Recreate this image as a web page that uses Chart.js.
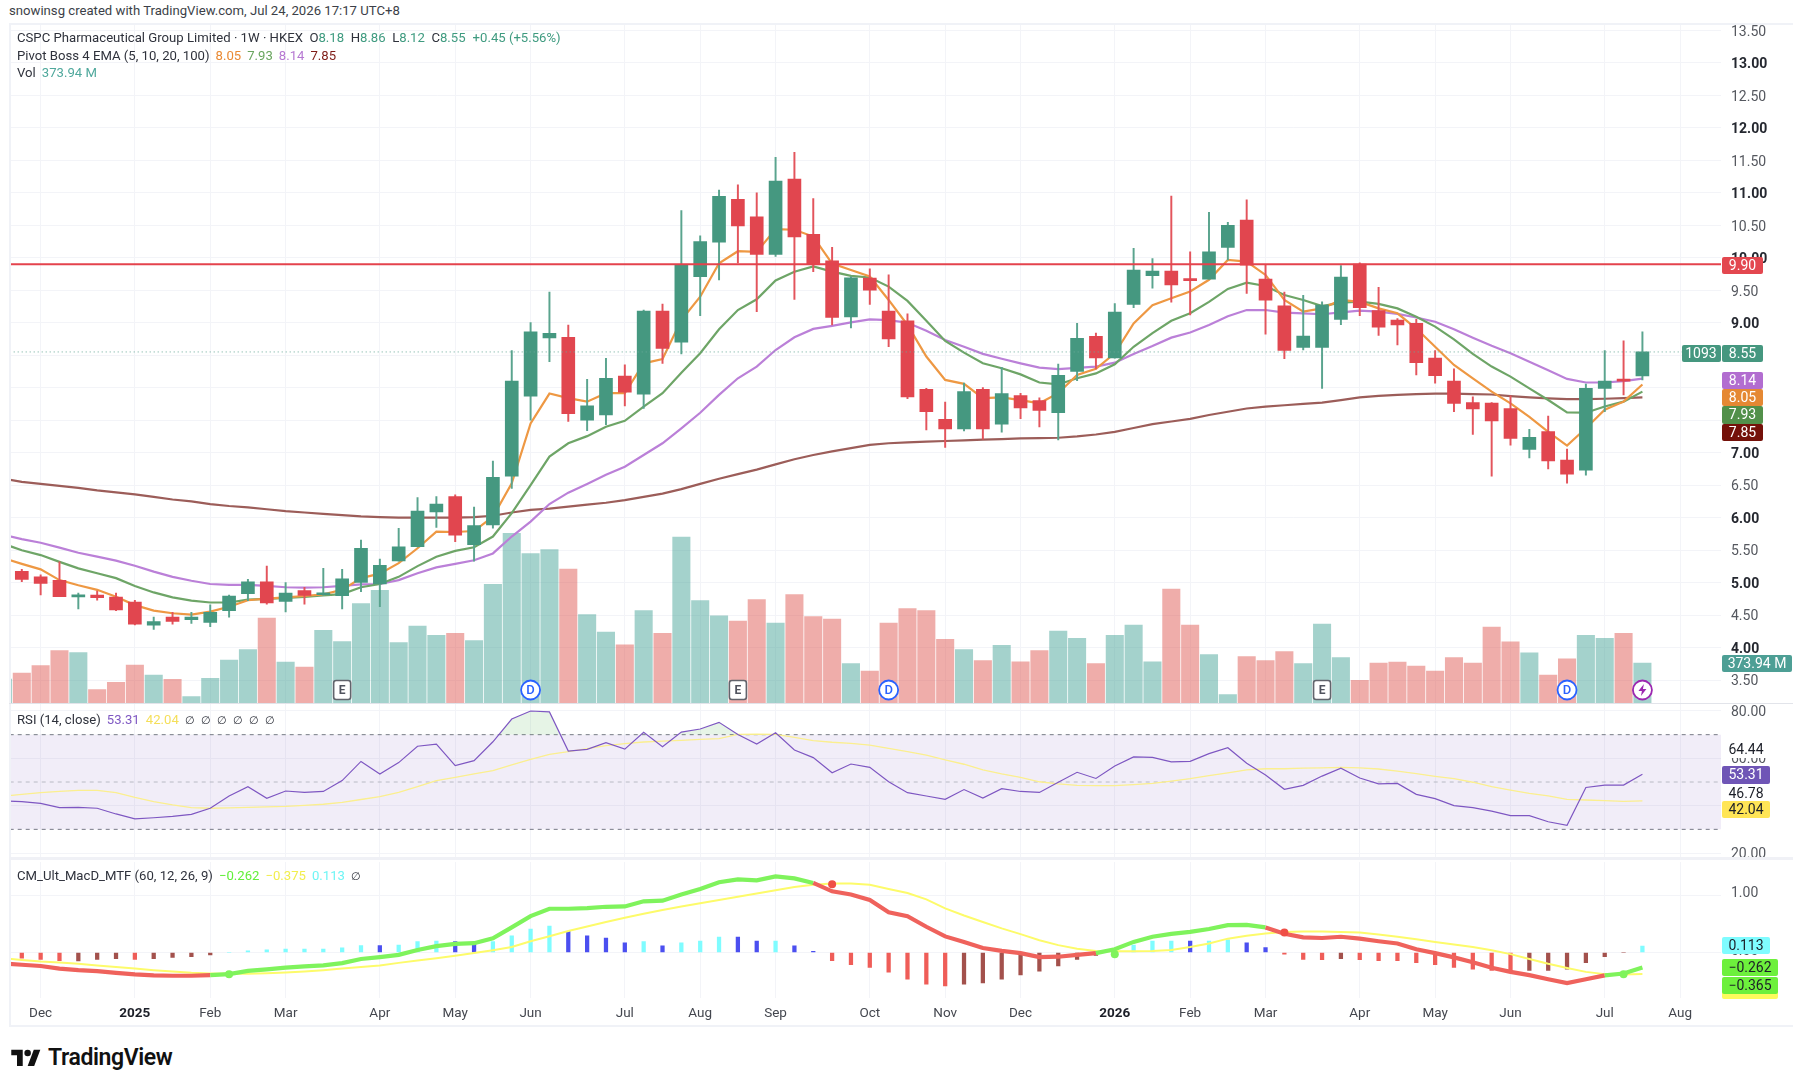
<!DOCTYPE html>
<html><head><meta charset="utf-8">
<script src="https://cdn.jsdelivr.net/npm/chart.js@4"></script>
<style>
html,body{margin:0;padding:0;background:#fff;width:1800px;height:1080px;overflow:hidden;font-family:Roboto,sans-serif}
canvas{position:absolute;left:0}
.t{position:absolute;white-space:nowrap;font-size:13.15px;line-height:16px;color:#2f323c}
.t span{margin-left:6px}
.tag{position:absolute;left:1722px;width:48px;height:17.4px;line-height:17.4px;font-size:14px;text-align:center;border-radius:2px;color:#fff}
.frame{position:absolute;left:9px;top:23px;width:1784px;height:1004px;box-sizing:border-box;border:2px solid #f0f2f7;border-right:none;pointer-events:none}
.sep{position:absolute;left:9px;width:1784px}
</style></head><body>
<canvas id="cPrice" width="1800" height="680" style="top:23px"></canvas>
<canvas id="cRsi" width="1800" height="155" style="top:703px"></canvas>
<canvas id="cMacd" width="1800" height="169" style="top:858px"></canvas>
<div class="frame"></div>
<div class="sep" style="top:703px;height:1px;background:#e2e4ea"></div>
<div class="sep" style="top:857px;height:3px;background:#f0f1f6"></div>

<div class="t" style="left:9px;top:3px;color:#3c3f48">snowinsg created with TradingView.com, Jul 24, 2026 17:17 UTC+8</div>
<div class="t" style="left:17px;top:30px">CSPC Pharmaceutical Group Limited · 1W · HKEX&nbsp;&nbsp;O<b style="font-weight:400;color:#3f9b80">8.18</b>&nbsp;&nbsp;H<b style="font-weight:400;color:#3f9b80">8.86</b>&nbsp;&nbsp;L<b style="font-weight:400;color:#3f9b80">8.12</b>&nbsp;&nbsp;C<b style="font-weight:400;color:#3f9b80">8.55</b><span style="color:#3f9b80;margin-left:7px">+0.45 (+5.56%)</span></div>
<div class="t" style="left:17px;top:48px">Pivot Boss 4 EMA (5, 10, 20, 100)<span style="color:#ea8a33">8.05</span><span style="color:#69a55e">7.93</span><span style="color:#b678d2">8.14</span><span style="color:#7f1d18">7.85</span></div>
<div class="t" style="left:17px;top:65px">Vol<span style="color:#4fa89c">373.94 M</span></div>
<div class="t" style="left:17px;top:712px">RSI (14, close)<span style="color:#7e57c2">53.31</span><span style="color:#f5df5a">42.04</span><span style="font-size:11px;word-spacing:3.4px">∅ ∅ ∅ ∅ ∅ ∅</span></div>
<div class="t" style="left:17px;top:868px">CM_Ult_MacD_MTF (60, 12, 26, 9)<span style="color:#62ef3a">−0.262</span><span style="color:#f2ee4e">−0.375</span><span style="color:#6ff5f5">0.113</span><span style="font-size:11px">∅</span></div>

<div class="tag" style="top:257px;background:#e3474f;width:41px">9.90</div>
<div class="tag" style="top:344.5px;background:#45977f;left:1681.5px;width:39px">1093</div>
<div class="tag" style="top:344.5px;background:#45977f;width:41px">8.55</div>
<div class="tag" style="top:371.6px;background:#b26dd0;width:41px">8.14</div>
<div class="tag" style="top:389px;background:#e58833;width:41px">8.05</div>
<div class="tag" style="top:406.4px;background:#52904a;width:41px">7.93</div>
<div class="tag" style="top:423.8px;background:#741109;width:41px">7.85</div>
<div class="tag" style="top:655px;background:#4d9f95;width:70px">373.94 M</div>

<div class="tag" style="top:741px;background:#fff;color:#1c1f28">64.44</div>
<div class="tag" style="top:766.3px;background:#6f55b6">53.31</div>
<div class="tag" style="top:784.6px;background:#fff;color:#1c1f28">46.78</div>
<div class="tag" style="top:801px;background:#ffe556;color:#1c1f28">42.04</div>

<div class="tag" style="top:937px;background:#7ffcff;color:#1c1f28">0.113</div>
<div class="tag" style="top:980px;height:18.7px;background:#fdfb5c;width:56px"></div>
<div class="tag" style="top:959px;background:#6df03c;color:#1c1f28;width:56px">−0.262</div>
<div class="tag" style="top:977px;background:#6df03c;color:#1c1f28;width:56px">−0.365</div>

<svg style="position:absolute;left:11px;top:1048px" width="30" height="18" viewBox="0 0 36 22"><path d="M14 22H7V9H0V2h14v20zM28 22h-8l7.5-20h8L28 22z" fill="#111"/><circle cx="20" cy="6" r="4" fill="#111"/></svg>
<div class="t" style="left:48px;top:1045px;font-size:23px;line-height:26px;font-weight:600;color:#111;letter-spacing:-.4px">TradingView</div>

<script>
// --- Weekly OHLC, index 0..86
const opens=[5.175,5.09,5.036,4.78,4.81,4.78,4.70,4.345,4.47,4.43,
4.39,4.57,4.83,5.015,4.71,4.877,4.815,4.80,5.005,4.98,
5.335,5.555,6.09,6.325,5.585,5.89,6.64,7.87,8.765,8.775,
7.50,7.58,8.18,7.90,9.18,8.70,9.71,10.24,10.90,10.63,
10.05,11.21,10.36,9.95,9.09,9.685,9.18,9.03,7.975,7.515,
7.365,7.975,7.44,7.88,7.80,7.615,8.25,8.79,8.46,9.28,
9.725,9.795,9.68,9.67,10.16,10.58,9.67,9.26,8.62,8.62,
9.05,9.90,9.185,9.04,8.99,8.455,8.10,7.77,7.765,7.68,
7.05,7.325,6.885,6.73,7.99,8.11,8.18];
const closes=[5.05,4.99,4.785,4.815,4.77,4.58,4.36,4.40,4.405,4.47,
4.545,4.795,5.015,4.69,4.84,4.805,4.84,5.06,5.53,5.267,
5.55,6.10,6.21,5.73,5.88,6.62,8.10,8.86,8.835,7.60,
7.72,8.145,7.93,9.18,8.606,9.89,10.25,10.945,10.49,10.05,
11.18,10.32,9.90,9.08,9.69,9.50,8.75,7.86,7.63,7.365,
7.94,7.365,7.91,7.69,7.65,8.19,8.76,8.46,9.165,9.81,
9.795,9.58,9.645,10.09,10.50,9.885,9.345,8.575,8.795,9.27,
9.70,9.23,8.93,8.965,8.385,8.185,7.76,7.675,7.49,7.22,
7.235,6.875,6.67,7.99,8.10,8.10,8.55];
const highs=[5.205,5.12,5.32,4.84,4.87,4.84,4.73,4.47,4.545,4.545,
4.66,4.81,5.05,5.255,5.0,4.93,5.22,5.205,5.657,5.365,
5.835,6.31,6.325,6.35,6.165,6.87,8.57,9.0,9.47,8.965,
8.13,8.45,8.35,9.195,9.285,10.725,10.335,11.04,11.12,11.0,
11.545,11.62,10.91,10.16,9.71,9.83,9.735,9.135,7.99,7.78,
8.07,8.0,8.315,7.915,7.845,8.365,8.99,8.84,9.295,10.145,
9.985,10.95,10.09,10.70,10.545,10.89,9.885,9.47,9.42,9.32,
9.88,9.92,9.545,9.065,9.05,8.57,8.29,7.86,7.77,7.875,
7.36,7.565,7.055,8.055,8.57,8.72,8.86];
const lows=[5.015,4.81,4.785,4.595,4.73,4.57,4.35,4.28,4.36,4.375,
4.325,4.47,4.725,4.67,4.55,4.67,4.805,4.595,4.86,4.63,
5.33,5.55,5.85,5.63,5.33,5.84,6.45,7.5,8.40,7.48,
7.34,7.43,7.72,7.68,8.375,8.52,9.11,9.66,9.92,9.17,
10.02,9.36,9.785,8.965,8.92,9.28,8.63,7.83,7.35,7.08,
7.335,7.21,7.315,7.525,7.395,7.195,8.11,8.29,8.455,9.23,
9.53,9.315,9.12,9.67,9.965,9.45,8.825,8.445,8.58,7.99,
8.97,9.11,8.805,8.66,8.195,8.07,7.63,7.28,6.64,7.115,
6.92,6.75,6.53,6.655,7.63,7.89,8.12];
// --- Volume in millions, the first entry is the partly hidden week -1
const volumeEdge=224;
const volumes=[280,349,489,471,125,193,355,262,221,59,
231,402,499,795,383,337,680,574,929,1054,
564,720,633,652,583,1110,1587,1396,1434,1253,
826,664,545,863,652,1552,957,816,767,966,
748,1013,807,785,368,299,748,882,863,596,
499,396,539,386,489,673,605,368,633,729,
386,1066,729,452,78,433,396,480,368,739,
424,212,374,383,346,299,424,374,711,573,
470,262,414,633,605,652,374];
// --- EMAs, first entry is week -1
const ema5=[5.38,5.29,5.205,5.04,4.96,4.89,4.785,4.655,4.57,4.53,4.51,
4.555,4.63,4.73,4.755,4.775,4.795,4.82,4.89,5.07,5.14,
5.30,5.53,5.785,5.78,5.795,6.015,6.53,7.45,7.91,7.84,
7.785,7.915,7.915,8.375,8.44,9.04,9.4,9.915,10.10,10.09,
10.44,10.43,10.325,9.91,9.81,9.71,9.35,8.965,8.48,8.12,
8.06,7.84,7.85,7.81,7.76,7.915,8.195,8.29,8.53,8.99,
9.27,9.375,9.48,9.66,9.965,9.94,9.735,9.35,9.17,9.22,
9.35,9.32,9.22,9.145,8.91,8.63,8.35,8.145,7.94,7.76,
7.55,7.32,7.11,7.375,7.66,7.785,8.05];
const ema10=[5.6,5.5,5.425,5.32,5.22,5.145,5.07,4.95,4.85,4.775,4.725,
4.695,4.695,4.74,4.75,4.765,4.78,4.805,4.825,4.93,4.98,
5.09,5.255,5.40,5.49,5.545,5.71,6.07,6.50,6.94,7.145,
7.255,7.40,7.49,7.71,7.915,8.23,8.53,8.90,9.195,9.36,
9.65,9.785,9.865,9.785,9.72,9.695,9.555,9.335,9.03,8.72,
8.54,8.375,8.30,8.205,8.08,8.05,8.145,8.22,8.36,8.63,
8.84,9.03,9.145,9.32,9.52,9.615,9.565,9.425,9.35,9.255,
9.31,9.325,9.29,9.22,9.09,8.94,8.745,8.52,8.325,8.17,
7.99,7.81,7.62,7.615,7.71,7.785,7.94];
const ema20=[5.74,5.67,5.615,5.54,5.46,5.40,5.34,5.26,5.17,5.09,5.03,
4.98,4.965,4.965,4.95,4.93,4.925,4.93,4.95,4.975,4.98,
5.04,5.145,5.235,5.29,5.345,5.45,5.71,5.94,6.21,6.385,
6.52,6.66,6.785,6.965,7.145,7.375,7.615,7.89,8.145,8.325,
8.58,8.775,8.905,8.95,9.005,9.05,9.04,9.0,8.875,8.735,
8.63,8.52,8.445,8.375,8.31,8.285,8.305,8.325,8.385,8.52,
8.64,8.77,8.85,8.965,9.10,9.195,9.195,9.155,9.145,9.13,
9.16,9.185,9.17,9.135,9.08,9.015,8.90,8.77,8.645,8.53,
8.40,8.27,8.135,8.08,8.08,8.10,8.14];
const ema100=[6.6,6.55,6.52,6.49,6.46,6.42,6.39,6.36,6.32,6.28,6.25,
6.21,6.18,6.16,6.13,6.10,6.08,6.06,6.04,6.02,6.01,
6.00,6.00,6.00,6.00,6.01,6.03,6.08,6.12,6.14,6.17,
6.20,6.23,6.27,6.32,6.37,6.44,6.52,6.60,6.67,6.74,
6.82,6.90,6.965,7.02,7.07,7.12,7.145,7.16,7.17,7.18,
7.19,7.20,7.21,7.22,7.225,7.23,7.25,7.28,7.32,7.38,
7.44,7.48,7.52,7.58,7.63,7.68,7.71,7.73,7.75,7.77,
7.81,7.85,7.875,7.89,7.90,7.91,7.91,7.90,7.895,7.87,
7.85,7.835,7.825,7.825,7.83,7.84,7.85];
const resistanceLevel=9.90, lastClose=8.55;
// --- RSI, first entry is week -1
const rsi=[42,41.7,41,39.2,39.3,38.9,36.5,34.4,34.9,35.5,36.3,
38.9,44.1,48,43.1,46.2,45.6,46,50.6,58.7,53.4,
58.2,65.1,66,56.9,59,67,76.6,80,79.6,63.1,
63.8,66.6,63.9,71,64.9,71.1,72.4,75.2,70.1,66,
70.8,63.5,60.3,53.9,57.6,56.2,50.1,45.5,44.1,42.7,
46.8,43.2,47.2,46,45.6,49.9,54.1,51.5,56.8,60.6,
60.4,58.5,58.7,62,64.5,57.9,53,46.9,48.6,52.5,
55.8,51.7,49.2,49.4,44.8,43,40,39.2,37.7,35.8,
35.8,33.2,31.7,47.7,48.7,48.7,53.31];
const rsiMa=[44,44.8,45.5,46,46.5,46.5,45.5,43.5,41.7,40.3,39.2,
38.9,39.1,39.3,39.5,39.7,40.1,40.6,41.4,42.6,43.8,
45.6,48,50.6,52,53.4,54.8,57.2,59.6,61.7,62.8,
64.1,65.4,66.2,66.9,67.3,67.6,68,68.3,70.1,70.2,
70.1,68.9,67.5,66.8,66.3,65.6,64.2,62.8,61.4,59.3,
57.5,55.1,53.4,52,50.1,49.2,48.6,48.5,48.5,48.9,
49.4,50.4,51.4,52.7,53.9,55.1,55.6,55.6,55.9,56,
56.2,56,55.5,54.6,53.5,52.4,51.4,49.9,48,46.6,
45.2,44.1,42.7,42.4,42.1,41.8,42.04];
const rsiUpper=70, rsiMiddle=50, rsiLower=30;
// --- CM Ult MACD, first entry is week -1
const macd=[-0.19,-0.213,-0.235,-0.28,-0.308,-0.325,-0.353,-0.381,-0.398,-0.404,-0.404,
-0.393,-0.376,-0.32,-0.292,-0.264,-0.241,-0.224,-0.185,-0.112,-0.079,
-0.04,0.045,0.112,0.152,0.163,0.247,0.438,0.634,0.763,0.763,
0.775,0.797,0.803,0.892,0.904,1.01,1.106,1.224,1.274,1.257,
1.325,1.291,1.212,1.066,1.01,0.915,0.702,0.634,0.449,0.281,
0.185,0.079,0.028,-0.011,-0.079,-0.073,-0.04,-0.011,0.056,0.185,
0.275,0.326,0.359,0.41,0.477,0.483,0.438,0.326,0.264,0.253,
0.275,0.242,0.197,0.157,0.056,-0.011,-0.084,-0.168,-0.264,-0.337,
-0.393,-0.466,-0.533,-0.466,-0.398,-0.365,-0.262];
const macdSignal=[-0.10,-0.13,-0.157,-0.175,-0.196,-0.225,-0.253,-0.28,-0.308,-0.33,-0.353,
-0.365,-0.37,-0.37,-0.36,-0.348,-0.33,-0.308,-0.28,-0.253,-0.224,
-0.18,-0.14,-0.10,-0.056,-0.01,0.04,0.096,0.197,0.285,0.376,
0.455,0.533,0.605,0.674,0.74,0.803,0.86,0.915,0.97,1.027,
1.085,1.14,1.179,1.201,1.201,1.179,1.106,1.038,0.926,0.769,
0.645,0.533,0.421,0.32,0.213,0.129,0.067,0.028,0.022,0.022,
0.028,0.045,0.096,0.157,0.242,0.292,0.331,0.359,0.365,0.365,
0.359,0.348,0.314,0.275,0.23,0.185,0.14,0.096,0.04,-0.028,
-0.112,-0.196,-0.269,-0.337,-0.376,-0.381,-0.375];
const macdBullishWeeks=[[10,41],[57,65],[84,85]];
const macdCrossWeeks=[11,43,58,67,85];
const macdCrossValues=[-0.38,1.19,-0.03,0.35,-0.38];
// index 0..86
const macdHist=[-0.1,-0.12,-0.14,-0.145,-0.12,-0.105,-0.12,-0.105,-0.085,-0.07,
-0.04,0,0.03,0.045,0.06,0.06,0.06,0.08,0.12,0.12,
0.13,0.19,0.2,0.19,0.15,0.19,0.29,0.41,0.46,0.37,
0.29,0.25,0.17,0.19,0.115,0.17,0.2,0.27,0.27,0.2,
0.2,0.115,0.02,-0.14,-0.21,-0.26,-0.34,-0.465,-0.55,-0.58,
-0.55,-0.53,-0.465,-0.39,-0.325,-0.235,-0.12,-0.05,0,0.13,
0.2,0.2,0.2,0.2,0.22,0.17,0.085,-0.03,-0.12,-0.125,
-0.105,-0.125,-0.14,-0.14,-0.175,-0.21,-0.26,-0.29,-0.31,-0.325,
-0.31,-0.31,-0.29,-0.175,-0.07,0,0.113];
// r falling below, m rising below, c rising above, b falling above
const macdHistState=("rrrmmmrmmmm"+"cccccccc"+"b"+"ccc"+"bb"+"cccc"+"bbbb"+"cb"+"ccc"+"bb"+"c"+"bb"+"rrrrrrr"+"mmmmmmmm"+"cccc"+"b"+"cc"+"bb"+"rrr"+"m"+"rrrrrrrrr"+"mmmmmm"+"c").split("");
// --- Time axis
const monthTickWeeks=[1,6,10,14,19,23,27,32,36,40,45,49,53,58,62,66,71,75,79,84,88];
const monthTickLabels=["Dec","2025","Feb","Mar","Apr","May","Jun","Jul","Aug","Sep","Oct","Nov","Dec","2026","Feb","Mar","Apr","May","Jun","Jul","Aug"];
const earningsWeeks=[17,38,69], dividendWeeks=[27,46,82], splitWeeks=[86];
const rsiTicks=[20,40,60,80], macdTicks=[0,1];

const xMin=-0.642, xMax=90.17;
const grid='#f3f4f8';
const GREEN='#459880', RED='#e1464f';
const weeks=opens.map((_,i)=>i);
const up=weeks.map(i=>closes[i]>=opens[i]);
const xy=arr=>arr.map((v,k)=>({x:k-1,y:v}));
const font='Roboto, sans-serif';

function xAxis(show){return{type:'linear',min:xMin,max:xMax,offset:false,
  grid:{color:grid,drawTicks:false,lineWidth:1,offset:false},border:{display:false},
  afterBuildTicks:s=>{s.ticks=monthTickWeeks.map(v=>({value:v}))},
  afterFit:s=>{s.height=show?29:0;s.paddingLeft=0;s.paddingRight=0},
  ticks:{display:show,autoSkip:false,maxRotation:0,minRotation:0,padding:8,
    callback:v=>monthTickLabels[monthTickWeeks.indexOf(v)],
    font:c=>({family:font,size:13.5,weight:/^20/.test(monthTickLabels[c.index]||'')?'700':'400'}),
    color:c=>/^20/.test(monthTickLabels[c.index]||'')?'#1c1f28':'#44474f'}}}
function yAxis(o,dy){return Object.assign({position:'right',grid:{color:grid,drawTicks:false},border:{display:false},
  afterFit:s=>{s.width=79;s.paddingTop=0;s.paddingBottom=0;
    if(dy&&!s._shifted){s._shifted=true;const f=s._computeLabelItems.bind(s);
      s._computeLabelItems=a=>{const r=f(a);r.forEach(it=>{it.options.translation=[it.options.translation[0],it.options.translation[1]+dy]});return r}}}},o)}
const base={responsive:false,animation:false,events:[],devicePixelRatio:1,
  layout:{padding:{left:9.7,right:0,top:0,bottom:0}},
  plugins:{legend:{display:false},tooltip:{enabled:false},title:{display:false}}};
const line=(data,color,w,order,extra)=>Object.assign({type:'line',data,borderColor:color,borderWidth:w,pointRadius:0,tension:0,order,fill:false},extra||{});

// event badges
const badgePlugin={id:'badges',afterDatasetsDraw(ch){
  const g=ch.ctx,sx=ch.scales.x,y=667;
  g.save();g.textAlign='center';g.textBaseline='middle';
  earningsWeeks.forEach(w=>{const x=sx.getPixelForValue(w);
    g.fillStyle='#fff';g.strokeStyle='#62646c';g.lineWidth=1.6;g.beginPath();g.roundRect(x-8.5,y-9.5,17,19,2.5);g.fill();g.stroke();
    g.fillStyle='#50535e';g.font='700 12px '+font;g.fillText('E',x,y+0.5);});
  dividendWeeks.forEach(w=>{const x=sx.getPixelForValue(w);
    g.fillStyle='#fff';g.strokeStyle='#2962ff';g.lineWidth=1.8;g.beginPath();g.arc(x,y,9.5,0,7);g.fill();g.stroke();
    g.fillStyle='#2962ff';g.font='500 13px '+font;g.fillText('D',x,y+0.5);});
  splitWeeks.forEach(w=>{const x=sx.getPixelForValue(w);
    g.fillStyle='#fff';g.strokeStyle='#9c27b0';g.lineWidth=1.8;g.beginPath();g.arc(x,y,9.5,0,7);g.fill();g.stroke();
    g.fillStyle='#9c27b0';g.beginPath();[[1.5,-6],[-4,1],[-0.5,1],[-1.5,6],[4,-1],[0.5,-1]].forEach((p,k)=>k?g.lineTo(x+p[0],y+p[1]):g.moveTo(x+p[0],y+p[1]));g.closePath();g.fill();});
  g.restore();}};

new Chart(document.getElementById('cPrice'),{
  data:{datasets:[
    {type:'bar',yAxisID:'yVol',data:[{x:-1,y:volumeEdge}].concat(weeks.map(i=>({x:i,y:volumes[i]}))),
      backgroundColor:[true].concat(up).map(u=>u?'rgba(64,160,148,.48)':'rgba(222,84,78,.48)'),
      barThickness:17.4,grouped:false,order:20},
    line(xy(ema100),'#9c5d59',2.2,10),
    line(xy(ema20),'#bb80d8',2.2,9),
    line(xy(ema10),'#6ea567',2.2,8),
    line(xy(ema5),'#ee9843',2.2,7),
    {type:'bar',data:weeks.map(i=>({x:i,y:[lows[i],highs[i]]})),
      backgroundColor:up.map(u=>u?'#5aa48e':'#e3545c'),barThickness:1.3,grouped:false,order:5},
    {type:'bar',data:weeks.map(i=>({x:i,y:[opens[i],closes[i]]})),
      backgroundColor:up.map(u=>u?GREEN:RED),barThickness:13,grouped:false,minBarLength:2,order:4},
    line([{x:xMin,y:resistanceLevel},{x:xMax,y:resistanceLevel}],'#e4434d',2,2),
    line([{x:xMin,y:lastClose},{x:xMax,y:lastClose}],'#6aa998',1,3,{borderDash:[1,3]})
  ]},
  options:Object.assign({},base,{scales:{
    x:xAxis(false),
    y:yAxis({min:3.149,max:13.611,ticks:{stepSize:0.5,includeBounds:false,padding:10,
      callback:v=>v.toFixed(2),
      font:c=>({family:font,size:14,weight:c.tick&&c.tick.value%1===0?'700':'400'}),
      color:c=>c.tick&&c.tick.value%1===0?'#24272f':'#55585f'}},1.8),
    yVol:{display:false,min:0,max:6358}
  }}),
  plugins:[badgePlugin]
});

new Chart(document.getElementById('cRsi'),{
  data:{datasets:[
    line(xy(rsi),'#7e57c2',1.2,2,{fill:{value:rsiUpper,above:'rgba(76,175,80,.14)',below:'rgba(0,0,0,0)'}}),
    line(xy(rsiMa),'#fbef8f',1.3,3),
    line([{x:xMin,y:rsiUpper},{x:xMax,y:rsiUpper}],'#787b86',1,5,{borderDash:[4,4],fill:'+1',backgroundColor:'rgba(126,87,194,.11)'}),
    line([{x:xMin,y:rsiLower},{x:xMax,y:rsiLower}],'#787b86',1,6,{borderDash:[4,4]}),
    line([{x:xMin,y:rsiMiddle},{x:xMax,y:rsiMiddle}],'#b9bbc4',1,4,{borderDash:[4,4]})
  ]},
  options:Object.assign({},base,{scales:{
    x:xAxis(false),
    y:yAxis({min:17.89,max:83.38,afterBuildTicks:s=>{s.ticks=rsiTicks.map(v=>({value:v}))},
      ticks:{padding:10,callback:v=>v.toFixed(2),font:{family:font,size:14},color:'#55585f'}},1.5)
  }})
});

const inBull=w=>macdBullishWeeks.some(r=>w>=r[0]&&w<=r[1]);
const histColors={r:'#ef5d58',m:'#a3514c',c:'#7ffcff',b:'#4b4ff0'};
new Chart(document.getElementById('cMacd'),{
  data:{datasets:[
    {type:'bar',data:weeks.map(i=>({x:i,y:macdHist[i]})),backgroundColor:macdHistState.map(s=>histColors[s]),
      barThickness:3.6,grouped:false,order:8},
    line(xy(macdSignal),'#fdfb6a',2,6),
    line(xy(macd),'#ef625c',4.2,4,{segment:{borderColor:c=>inBull(c.p0DataIndex-1)?'#7ff35c':'#ef625c'}}),
    {type:'scatter',data:macdCrossWeeks.map((w,k)=>({x:w,y:macdCrossValues[k]})),
      backgroundColor:macdCrossWeeks.map(w=>inBull(w)?'#7ff35c':'#ef4f46'),
      pointRadius:4,borderWidth:0,order:2}
  ]},
  options:Object.assign({},base,{scales:{
    x:xAxis(true),
    y:yAxis({min:-0.792,max:1.577,afterBuildTicks:s=>{s.ticks=macdTicks.map(v=>({value:v}))},
      ticks:{padding:10,callback:v=>v.toFixed(2),font:{family:font,size:14},color:'#55585f'}},-1.5)
  }})
});
</script>
</body></html>
